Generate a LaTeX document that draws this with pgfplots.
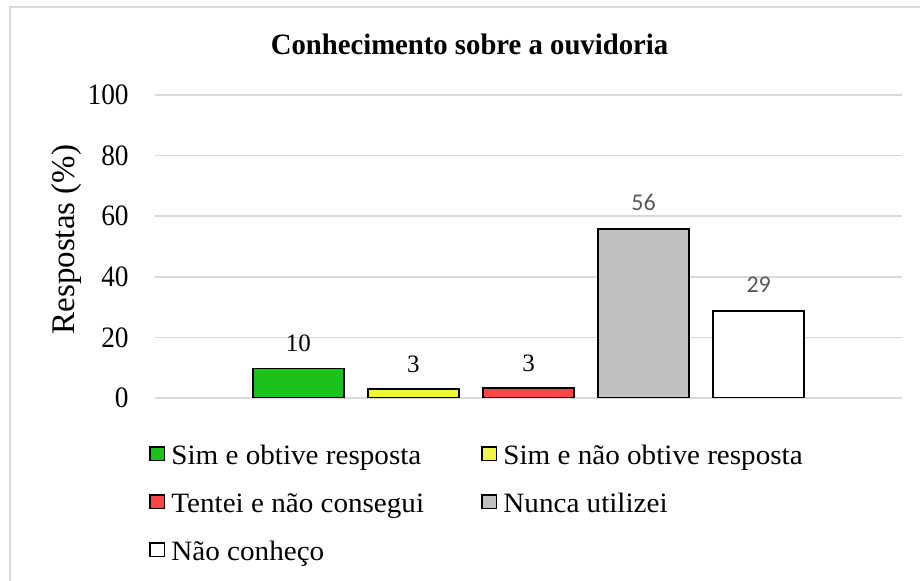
\documentclass[border=0pt]{standalone}
\usepackage{pgfplots}
\pgfplotsset{compat=1.18}
\usepackage{fontspec}
\setmainfont{Liberation Serif}
\newfontfamily\calibri{Carlito}
\newfontfamily\tickfont{Liberation Serif}[FakeStretch=0.924]
\newfontfamily\legfont{Liberation Serif}[FakeStretch=1.04]
\newfontfamily\titlefont{Liberation Serif}[FakeStretch=0.97]
\definecolor{gridc}{HTML}{D9D9D9}
\definecolor{cgreen}{HTML}{1AC31A}
\definecolor{cyellow}{HTML}{EEF542}
\definecolor{cred}{HTML}{FF4545}
\definecolor{cgray}{HTML}{C0C0C0}
\definecolor{lblgray}{HTML}{595959}
\begin{document}
\begin{tikzpicture}
\useasboundingbox (0,0) rectangle (460pt,-290.5pt);
\draw[gridc, line width=0.75pt] (5pt,-290.5pt) -- (5pt,-3.5pt) -- (460pt,-3.5pt);
\node[anchor=base, inner sep=0pt, font=\fontsize{14.8}{17}\titlefont\bfseries] at (234.75pt,-27.5pt) {Conhecimento sobre a ouvidoria};
\begin{axis}[
  at={(77.5pt,-199pt)}, anchor=south west,
  scale only axis, width=373.5pt, height=151.5pt,
  ymin=0, ymax=100, ytick={0,20,...,100},
  xmin=-1.245, xmax=5.245, xtick=\empty,
  ymajorgrids, grid style={gridc, line width=0.75pt},
  axis line style={draw=none}, major tick length=0pt,
  tick label style={font=\fontsize{14.8}{17}\tickfont},
  /pgf/number format/assume math mode=true,
  yticklabel style={inner sep=0pt, xshift=-13pt},
  ylabel={Respostas (\%)},
  ylabel style={font=\fontsize{16.5}{19}\selectfont, at={(axis description cs:-0.118,0.523)}, anchor=center},
  ybar, bar width=0.79, bar shift=0pt,
  every axis plot/.append style={draw=black, line width=0.75pt},
  nodes near coords={\pgfmathprintnumber[fixed,precision=0]{\pgfplotspointmeta}},
  every node near coord/.append style={font=\fontsize{12.5}{14}\selectfont, inner sep=0pt, yshift=8pt, /pgf/number format/assume math mode=true},
  legend columns=2,
  legend cell align=left,
  legend image code/.code={\draw[#1, line width=0.75pt] (0.375pt,-1.6pt) rectangle (7.5pt,5.3pt); \pgfresetboundingbox \path[draw=none, fill=none] (0pt,0pt) rectangle (11pt,8pt);},
  legend style={draw=none, fill=none, inner sep=0pt, at={(axis description cs:-0.008,-0.142)}, anchor=north west,
    font=\fontsize{14}{16}\legfont,
    nodes={inner sep=0pt, text height=10pt, text depth=3pt},
    /tikz/row sep=9.5pt, /tikz/column sep=0pt},
]
\addplot[fill=cgreen] coordinates {(0,9.8)};
\addlegendentry{\makebox[155pt][l]{Sim e obtive resposta}}
\addplot[fill=cyellow] coordinates {(1,2.9)};
\addlegendentry{Sim e não obtive resposta}
\addplot[fill=cred] coordinates {(2,3.3)};
\addlegendentry{\makebox[155pt][l]{Tentei e não consegui}}
\addplot[fill=cgray, every node near coord/.append style={font=\fontsize{12}{14}\selectfont\calibri, text=lblgray, yshift=1pt}] coordinates {(3,55.7)};
\addlegendentry{Nunca utilizei}
\addplot[fill=white, every node near coord/.append style={font=\fontsize{12}{14}\selectfont\calibri, text=lblgray, yshift=1pt}] coordinates {(4,28.7)};
\addlegendentry{\makebox[155pt][l]{Não conheço}}
\end{axis}
\end{tikzpicture}
\end{document}
